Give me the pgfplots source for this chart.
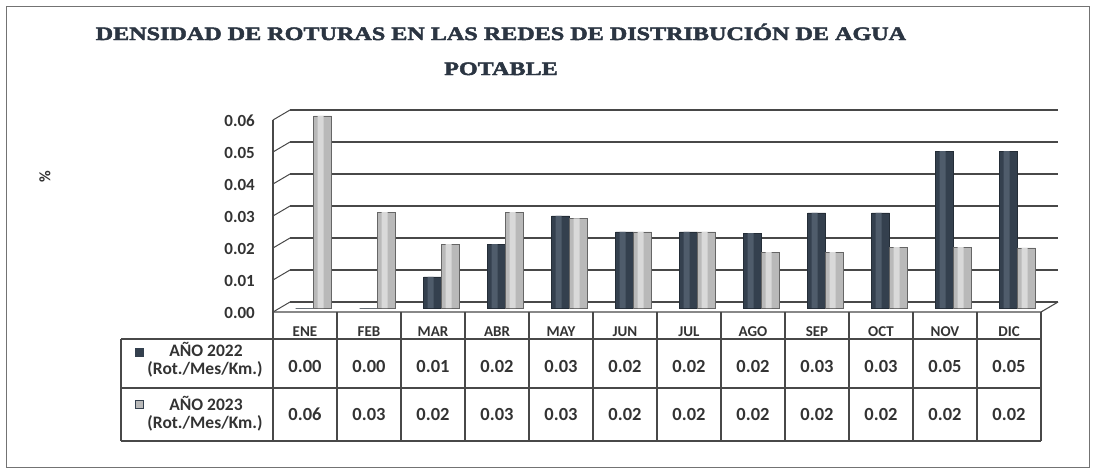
\documentclass[border=0pt]{standalone}
\usepackage{pgfplots}
\pgfplotsset{compat=1.18}
\usepackage{pgfplotstable}
\usepackage{fontspec}
\setmainfont{Carlito}
\newfontfamily\titlefont[FakeStretch=1.27, FakeBold=2.5]{Liberation Serif}
\definecolor{darkbar}{HTML}{34404E}
\definecolor{darkbarhi}{HTML}{4F5C6B}
\definecolor{lightbar}{HTML}{B9B9B9}
\definecolor{lightbarhi}{HTML}{D9D9D9}
\definecolor{txt}{HTML}{333333}
\definecolor{titlec}{HTML}{2B3542}
\definecolor{gridc}{HTML}{484848}

\pgfplotstableread{
x a b
0 0 0.060
1 0 0.030
2 0.0097 0.020
3 0.020 0.030
4 0.0288 0.028
5 0.0238 0.0238
6 0.0238 0.0238
7 0.0234 0.0175
8 0.0297 0.0175
9 0.0297 0.019
10 0.049 0.019
11 0.049 0.0188
}\datatab

\begin{document}
\begin{tikzpicture}[x=1pt,y=1pt]
\path[use as bounding box] (0,0) rectangle (1095,-474);
\draw[black!55, line width=1pt] (6,-6) rectangle (1089,-467);
% title
\node[anchor=base, font=\titlefont\bfseries\fontsize{19}{22}\selectfont, text=titlec, inner sep=0pt] at (501,-40) {DENSIDAD DE ROTURAS EN LAS REDES DE DISTRIBUCIÓN DE AGUA};
\node[anchor=base, font=\titlefont\bfseries\fontsize{19}{22}\selectfont, text=titlec, inner sep=0pt] at (501,-75) {POTABLE};
\node[rotate=90, font=\bfseries\fontsize{16}{18}\selectfont, text=txt] at (45,-177) {\%};

\begin{axis}[
  at={(281.5pt,-308pt)}, anchor=south west,
  scale only axis, width=768pt, height=200pt,
  xmin=-0.5, xmax=11.5, ymin=0, ymax=0.0625,
  scaled y ticks=false,
  xtick=\empty,
  ytick={0,0.01,0.02,0.03,0.04,0.05,0.06},
  yticklabels={0.00,0.01,0.02,0.03,0.04,0.05,0.06},
  yticklabel style={anchor=east, inner sep=0pt, xshift=-26.5pt, yshift=-5pt, font=\bfseries\fontsize{17}{19}\selectfont, text=txt},
  major tick style={draw=none},
  axis line style={draw=none},
  ymajorgrids,
  major grid style={gridc, line width=1.1pt, xshift=8.5pt, yshift=6pt},
  ybar, bar width=18pt,
]
% 2022: bar body and a lighter strip for the cylinder look
\addplot[ybar, bar width=18pt, bar shift=-9pt, draw=darkbar!70!black, fill=darkbar] table[x=x,y=a]{\datatab};
\addplot[ybar, bar width=6pt, bar shift=-11pt, draw=none, fill=darkbarhi] table[x=x,y=a]{\datatab};
% 2023
\addplot[ybar, bar width=18pt, bar shift=9pt, draw=black!60, fill=lightbar] table[x=x,y=b]{\datatab};
\addplot[ybar, bar width=6pt, bar shift=7pt, draw=none, fill=lightbarhi] table[x=x,y=b]{\datatab};
\end{axis}

% left wall and floor
\draw[gridc, line width=1.1pt] (273,-312) -- (273,-120);
\foreach \k in {0,...,6} {\draw[gridc, line width=1pt] (273,{-312+32*\k}) -- (290,{-302+32*\k});}
\draw[gridc, line width=1.1pt] (273,-312) -- (1041,-312) -- (1058,-302);

% table
\begin{scope}[gridc, line width=1.1pt]
\foreach \k in {0,...,12} {\draw ({273+64*\k},-312) -- ({273+64*\k},-441);}
\draw (121,-339) -- (1041,-339);
\draw (121,-388) -- (1041,-388);
\draw (121,-441) -- (1041,-441);
\draw (121,-339) -- (121,-441);
\end{scope}

\foreach \m [count=\i from 0] in {ENE,FEB,MAR,ABR,MAY,JUN,JUL,AGO,SEP,OCT,NOV,DIC}
  {\node[anchor=base, inner sep=0pt, font=\bfseries\fontsize{15}{17}\selectfont, text=txt] at ({305+64*\i},-336) {\m};}
\foreach \v [count=\i from 0] in {0.00,0.00,0.01,0.02,0.03,0.02,0.02,0.02,0.03,0.03,0.05,0.05}
  {\node[anchor=base, inner sep=0pt, font=\bfseries\fontsize{18.5}{20}\selectfont, text=txt] at ({305+64*\i},-372) {\v};}
\foreach \v [count=\i from 0] in {0.06,0.03,0.02,0.03,0.03,0.02,0.02,0.02,0.02,0.02,0.02,0.02}
  {\node[anchor=base, inner sep=0pt, font=\bfseries\fontsize{18.5}{20}\selectfont, text=txt] at ({305+64*\i},-420) {\v};}

% series labels
\fill[darkbar] (135,-348) rectangle (144,-357);
\filldraw[fill=lightbar, draw=darkbar, line width=1pt] (135.5,-400.5) rectangle (143.5,-408.5);
\node[anchor=base, inner sep=0pt, font=\bfseries\fontsize{17.5}{19}\selectfont, text=txt] at (206,-356) {AÑO 2022};
\node[anchor=base, inner sep=0pt, font=\bfseries\fontsize{17.5}{19}\selectfont, text=txt] at (205,-374) {(Rot./Mes/Km.)};
\node[anchor=base, inner sep=0pt, font=\bfseries\fontsize{17.5}{19}\selectfont, text=txt] at (206,-410) {AÑO 2023};
\node[anchor=base, inner sep=0pt, font=\bfseries\fontsize{17.5}{19}\selectfont, text=txt] at (205,-428) {(Rot./Mes/Km.)};
\end{tikzpicture}
\end{document}
